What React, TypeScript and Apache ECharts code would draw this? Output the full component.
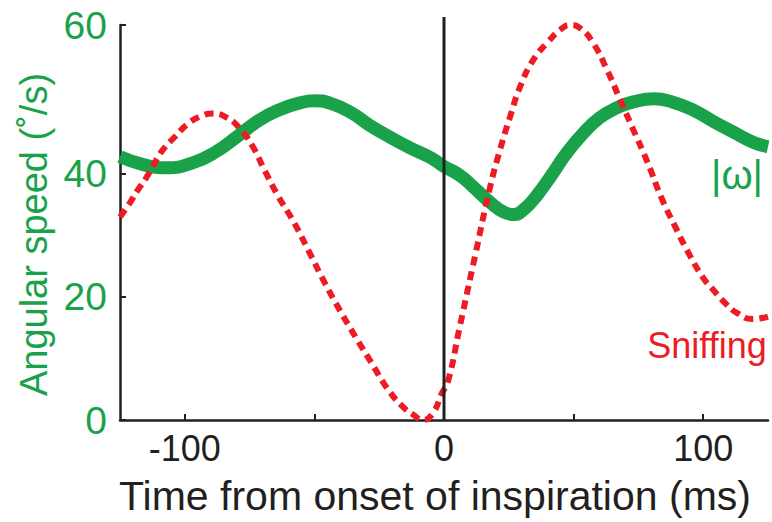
import React, { useEffect, useRef } from 'react';
import * as echarts from 'echarts';

// |ω| (angular speed, °/s) vs time from onset of inspiration (ms)
const omegaTime = [-125, -116, -107, -97, -88, -80, -71, -63, -56, -50, -44, -36, -29, -21, -13, -5, 0, 6, 12, 18, 23, 27, 31, 36, 41, 47, 53.5, 60, 67, 73, 81, 88, 96, 104, 111.6, 119, 125];
const omegaValues = [42.8, 41.5, 41.0, 41.8, 43.6, 46.0, 48.8, 50.5, 51.5, 51.9, 51.5, 50.0, 48.0, 46.0, 44.2, 42.6, 41.2, 39.8, 37.6, 35.3, 33.8, 33.4, 34.3, 36.6, 39.5, 43.2, 46.5, 49.1, 50.8, 51.7, 52.2, 51.7, 50.4, 48.5, 46.8, 45.2, 44.4];

// Sniffing trace (scaled to the same axis)
const sniffTime = [-125, -121.2, -118.1, -114.7, -111.6, -108.5, -103.9, -99.2, -94.2, -89.2, -84, -79, -74, -69, -64, -58, -52, -46, -40, -34, -28, -22, -16, -12, -8, -4, -1, 1.5, 6, 12, 17.8, 21.6, 25.5, 29.3, 34.4, 39.8, 44.8, 48.6, 52.5, 57.5, 62.9, 68, 73, 78.4, 84, 89, 94, 100, 104, 108.5, 113, 119, 125];
const sniffValues = [33, 35.3, 37.4, 39.5, 41.8, 43.9, 46, 48, 49.3, 49.8, 49.2, 47.5, 44.6, 40.4, 36.4, 32.2, 27.3, 22.3, 17.7, 13.4, 9.3, 5.2, 2.2, 0.9, 0, 1.3, 4.2, 6.2, 15, 26.7, 37.9, 43.9, 49.3, 54.1, 58.5, 61.3, 63.4, 64.2, 63.7, 61.3, 56.9, 52, 47.2, 42, 36.0, 31.6, 27.4, 23.1, 21.1, 19, 17.4, 16.4, 16.8];

const xTicks = [-100, -50, 0, 50, 100];
const xTickLabels = [-100, 0, 100];
const yTicks = [0, 20, 40, 64.2];
const yTickLabels = ['0', '20', '40', '60'];
const onsetLine = [[0, 0], [0, 65.5]];

const GREEN = '#19a24a';
const RED = '#ed1c24';
const INK = '#231f20';
const FONT = "'Liberation Sans', Arial, Helvetica, sans-serif";

export default function App() {
  const ref = useRef<HTMLDivElement>(null);
  useEffect(() => {
    if (!ref.current) return;
    const chart = echarts.init(ref.current, null, { renderer: 'svg' });
    chart.setOption({
      animation: false,
      backgroundColor: '#ffffff',
      textStyle: { fontFamily: FONT },
      grid: { left: 120, right: 4, top: 25, bottom: 102, containLabel: false, outerBoundsMode: 'none' },
      xAxis: {
        type: 'value',
        min: -125,
        max: 125,
        name: 'Time from onset of inspiration (ms)',
        nameLocation: 'middle',
        nameGap: 55,
        nameTextStyle: { color: INK, fontSize: 41, lineHeight: 41, fontFamily: FONT, padding: [0, 18, 0, 0] },
        axisLine: { show: true, onZero: false, lineStyle: { color: INK, width: 2.5 } },
        axisTick: { show: true, inside: true, length: 6, customValues: xTicks, lineStyle: { color: INK, width: 2 } },
        axisLabel: { customValues: xTickLabels, color: INK, fontSize: 36, lineHeight: 36, margin: 10, fontFamily: FONT },
        splitLine: { show: false },
      },
      yAxis: {
        type: 'value',
        min: 0,
        max: 64.2,
        name: 'Angular speed (˚/s)',
        nameLocation: 'middle',
        nameGap: 66,
        nameTextStyle: { color: GREEN, fontSize: 38, fontFamily: FONT, padding: [0, 24, 0, 0] },
        axisLine: { show: true, onZero: false, lineStyle: { color: INK, width: 2.5 } },
        axisTick: { show: true, inside: true, length: 6, customValues: yTicks, lineStyle: { color: INK, width: 2 } },
        axisLabel: {
          customValues: yTicks,
          color: GREEN,
          fontSize: 39,
          margin: 13,
          fontFamily: FONT,
          formatter: (v: number) => {
            const i = yTicks.indexOf(v);
            return i >= 0 ? yTickLabels[i] : '';
          },
        },
        splitLine: { show: false },
      },
      series: [
        {
          name: '|ω|',
          type: 'line',
          data: omegaTime.map((t, i) => [t, omegaValues[i]]),
          smooth: 0.5,
          symbol: 'none',
          lineStyle: { color: GREEN, width: 13 },
          z: 2,
        },
        {
          name: 'Sniffing',
          type: 'line',
          data: sniffTime.map((t, i) => [t, sniffValues[i]]),
          smooth: 0.5,
          symbol: 'none',
          lineStyle: { color: RED, width: 6, type: [9, 6] },
          z: 3,
        },
        {
          name: 'onset',
          type: 'line',
          data: onsetLine,
          clip: false,
          symbol: 'none',
          lineStyle: { color: INK, width: 3 },
          z: 4,
        },
      ],
      graphic: [
        {
          type: 'text',
          x: 737,
          y: 175,
          style: { text: '|ω|', fill: GREEN, fontSize: 40, fontFamily: FONT, align: 'center', verticalAlign: 'middle' },
        },
        {
          type: 'text',
          x: 707,
          y: 345,
          style: { text: 'Sniffing', fill: RED, fontSize: 36, fontFamily: FONT, align: 'center', verticalAlign: 'middle' },
        },
      ],
    });
    return () => chart.dispose();
  }, []);
  return <div ref={ref} style={{ position: 'fixed', left: 0, top: 0, width: 772, height: 522 }} />;
}
